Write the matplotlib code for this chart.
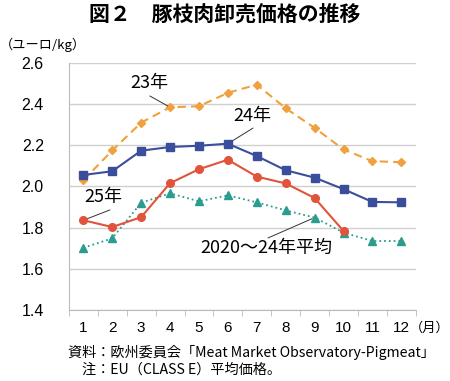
import numpy as np
import matplotlib
matplotlib.use("Agg")
import matplotlib.pyplot as plt

plt.rcParams['font.family'] = ['Noto Sans CJK JP', 'DejaVu Sans']

months = list(range(1, 13))
month_labels = [str(m) for m in months]

# 豚枝肉卸売価格（ユーロ/kg）
y23 = [2.03, 2.175, 2.31, 2.385, 2.39, 2.455, 2.495, 2.38, 2.285, 2.18, 2.123, 2.118]
y24 = [2.056, 2.074, 2.174, 2.192, 2.198, 2.208, 2.148, 2.079, 2.043, 1.987, 1.925, 1.923]
y25 = [1.836, 1.803, 1.851, 2.016, 2.084, 2.13, 2.048, 2.015, 1.944, 1.784]
yavg = [1.702, 1.748, 1.921, 1.967, 1.928, 1.957, 1.923, 1.884, 1.849, 1.776, 1.735, 1.735]

fig = plt.figure(figsize=(4.5, 3.81), dpi=100)
ax = fig.add_axes([0.153, 0.1864, 0.771, 0.6482])

ax.plot(months, y23, color='#F0A03C', ls=(0, (4, 2.5)), lw=1.5, marker='D', ms=4.5, zorder=3)
ax.plot(months, yavg, color='#2A9D8F', ls=':', lw=1.3, marker='^', ms=6, zorder=3)
ax.plot(months, y24, color='#3A4E9C', ls='-', lw=1.5, marker='s', ms=5.5, zorder=4)
ax.plot(months[:len(y25)], y25, color='#E2533C', ls='-', lw=1.5, marker='o', ms=5.5, zorder=5)

ax.set_xlim(0.5, 12.5)
ax.set_ylim(1.4, 2.6)
yt = np.arange(1.4, 2.61, 0.2)
ax.set_yticks(yt)
ax.set_yticklabels([f'{v:.1f}' for v in yt], family='Liberation Sans')
ax.set_xticks(months)
ax.set_xticklabels(month_labels, family='Liberation Sans')
ax.set_xticks(np.arange(0.5, 12.6, 1), minor=True)
ax.tick_params(axis='x', which='major', length=0, labelsize=11, pad=8)
ax.tick_params(axis='x', which='minor', length=4, color='#BBBBBB')
ax.tick_params(axis='y', length=0, labelsize=11.5, pad=18)
ax.grid(axis='y', color='#D0D0D0', lw=1)
ax.set_axisbelow(True)
for s in ['top', 'right']:
    ax.spines[s].set_visible(False)
for s in ['left', 'bottom']:
    ax.spines[s].set_color('#BBBBBB')

# series labels and leader lines
def leader(xy, start):
    ax.annotate('', xy=xy, xytext=start,
                arrowprops=dict(arrowstyle='-', color='#333333', lw=0.7, shrinkA=0, shrinkB=2))

ax.text(3.27, 2.503, '23年', fontsize=13, ha='center', va='center')
leader((4, y23[3]), (3.3, 2.44))
ax.text(6.83, 2.343, '24年', fontsize=13, ha='center', va='center')
leader((6, y24[5]), (6.87, 2.284))
ax.text(1.68, 1.949, '25年', fontsize=13, ha='center', va='center')
leader((1, y25[0]), (1.92, 1.886))
ax.text(7.32, 1.70, '2020～24年平均', fontsize=13, ha='center', va='center')
leader((9, yavg[8]), (7.39, 1.75))

fig.text(0.5, 0.962, '図２　豚枝肉卸売価格の推移', ha='center', va='center', fontsize=15, fontweight='bold')
fig.text(0.0, 0.882, '（ユーロ/kg）', ha='left', va='center', fontsize=9.5)
fig.text(1.0, 0.138, '（月）', ha='right', va='center', fontsize=9.5)
fig.text(0.151, 0.076, '資料：欧州委員会「Meat Market Observatory-Pigmeat」', ha='left', va='center', fontsize=10.2)
fig.text(0.182, 0.031, '注：EU（CLASS E）平均価格。', ha='left', va='center', fontsize=10.2)

fig.savefig('out.png', dpi=100)
